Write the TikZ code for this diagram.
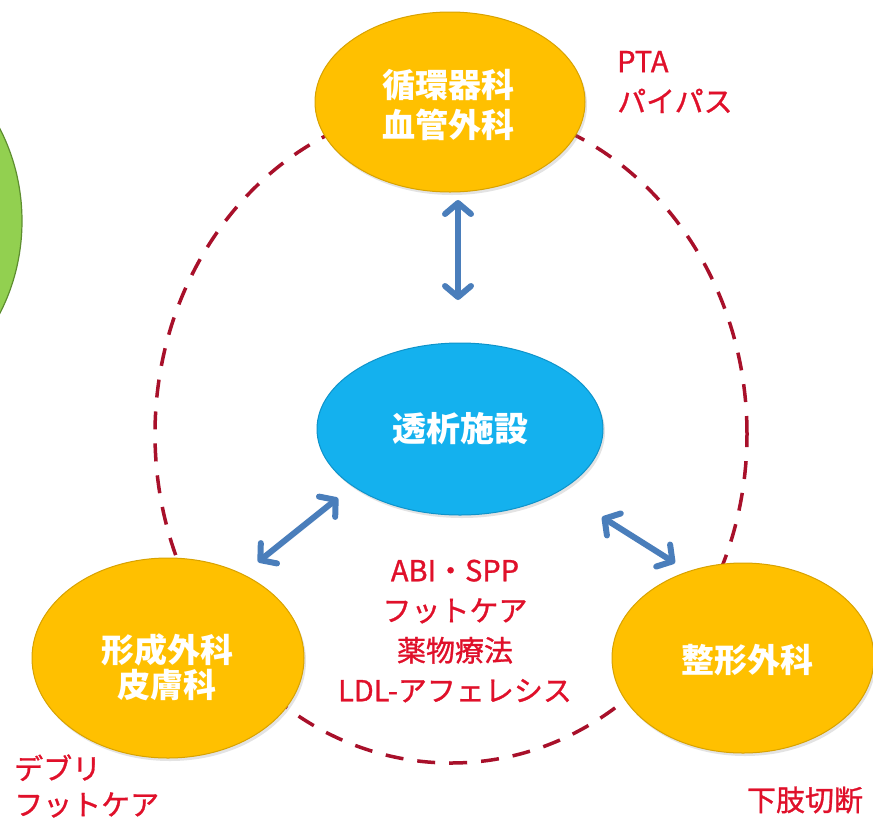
\documentclass[tikz,border=0pt]{standalone}
\usepackage{fontspec}
\newfontfamily\jp{Noto Sans CJK JP}
\newfontfamily\jpred[FakeBold=1]{Noto Sans CJK JP}
\usetikzlibrary{arrows.meta,shapes.geometric,shadows}
\definecolor{gold}{HTML}{FFC000}
\definecolor{goldedge}{HTML}{D8A200}
\definecolor{skyblue}{HTML}{14B1EE}
\definecolor{skyedge}{HTML}{0E93CA}
\definecolor{leaf}{HTML}{92D050}
\definecolor{leafedge}{HTML}{5E8E30}
\definecolor{arrowblue}{HTML}{4A7EBB}
\definecolor{labelred}{HTML}{E0102A}
\definecolor{dashred}{HTML}{A8102A}
\begin{document}
\begin{tikzpicture}[x=1pt,y=-1pt,
  goldoval/.style={ellipse, draw=goldedge, line width=1pt, fill=gold, inner sep=0pt,
    drop shadow={opacity=0.22, shadow xshift=2pt, shadow yshift=-3pt}},
  blueoval/.style={ellipse, draw=skyedge, line width=1pt, fill=skyblue, inner sep=0pt,
    drop shadow={opacity=0.22, shadow xshift=2pt, shadow yshift=-3pt}},
  whitetxt/.style={text=white, align=center, inner sep=0pt, font=\jp\bfseries\fontsize{33}{40}\selectfont},
  redtxt/.style={text=labelred, inner sep=0pt, font=\jpred\fontsize{29}{40}\selectfont},
  biarrow/.style={draw=arrowblue, line width=6pt,
    {Straight Barb[length=11pt,width=26pt,line cap=round,line join=round]}-{Straight Barb[length=11pt,width=26pt,line cap=round,line join=round]}},
  ring/.style={draw=dashred, line width=3.5pt, dash pattern=on 18pt off 14pt}
]
\useasboundingbox (0,0) rectangle (873,820);
\fill[white] (0,0) rectangle (873,820);

% green ellipse cut by the left edge
\begin{scope}
  \clip (0,0) rectangle (873,820);
  \node[ellipse, draw=leafedge, line width=1.2pt, fill=leaf, minimum width=344pt, minimum height=376pt, inner sep=0pt] (green) at (-150,221) {};
\end{scope}

% dashed ring
\node[ellipse, ring, minimum width=592pt, minimum height=658pt, inner sep=0pt] (ringnode) at (451,434) {};

% ovals
\node[goldoval, minimum width=270pt, minimum height=180pt] (top) at (450,102) {};
\node[blueoval, minimum width=286pt, minimum height=172pt] (c) at (460,429) {};
\node[goldoval, minimum width=272pt, minimum height=200pt] (bl) at (168,658) {};
\node[goldoval, minimum width=262pt, minimum height=190pt] (br) at (743,658) {};

% texts in ovals
\node[whitetxt] (ttop) at ([shift={(-2,3)}]top.center) {循環器科\\血管外科};
\node[whitetxt, font=\jp\bfseries\fontsize{34}{40}\selectfont] (tc) at (c.center) {透析施設};
\node[whitetxt, font=\jp\bfseries\fontsize{33}{35}\selectfont] (tbl) at ([shift={(-1,9)}]bl.center) {形成外科\\皮膚科};
\node[whitetxt, font=\jp\bfseries\fontsize{33}{35}\selectfont] (tbr) at ([shift={(4,2)}]br.center) {整形外科};

% arrows
\draw[biarrow] ([shift={(8,98)}]top.center) -- ([shift={(-2,-129)}]c.center);
\draw[biarrow] ([shift={(90,-96)}]bl.center) -- ([shift={(-122,69)}]c.center);
\draw[biarrow] ([shift={(142,88)}]c.center) -- ([shift={(-68,-95)}]br.center);

% red labels
\node[redtxt, align=left, anchor=west] (pta) at (617,82) {PTA\\パイパス};
\node[redtxt, align=center] (mid) at (455,631) {ABI・SPP\\フットケア\\薬物療法\\LDL-アフェレシス};
\node[redtxt, align=left, anchor=west, font=\jpred\fontsize{29}{36}\selectfont] (debri) at (14,786) {デブリ\\フットケア};
\node[redtxt] (amp) at (805,800) {下肢切断};
\end{tikzpicture}
\end{document}
